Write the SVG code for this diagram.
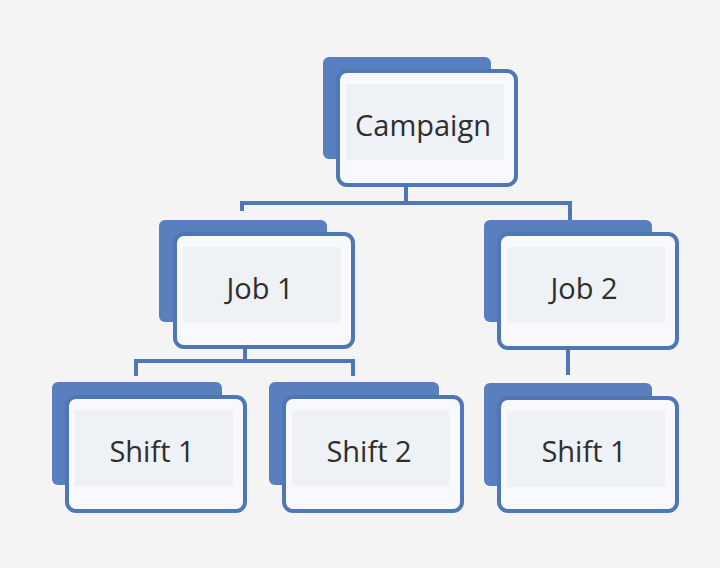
<svg xmlns="http://www.w3.org/2000/svg" width="720" height="568" viewBox="0 0 720 568">
<defs>
<style>
.back{fill:#5a7fbe;}
.front{fill:#f8f9fc;stroke:#5077b5;stroke-width:4;}
.inner{fill:#eef1f6;}
.lbl{font-family:"Open Sans","Liberation Sans",sans-serif;font-size:29px;fill:#2e2e2e;text-anchor:middle;}
.conn{fill:none;stroke:#5077b5;stroke-width:4;}
</style>
</defs>
<rect width="720" height="568" fill="#f4f4f4"/>
<g id="connectors">
<path class="conn" d="M406 186 V203 M242 211 V203 H570 V220"/>
<path class="conn" d="M245 349 V361 M136 376 V361 H353 V376"/>
<path class="conn" d="M568 350 V375"/>
</g>
<g id="campaign">
<rect class="back" x="323" y="57" width="168" height="102" rx="6"/>
<rect class="front" x="338" y="71" width="178" height="114" rx="9"/>
<rect class="inner" x="346" y="84" width="158" height="76"/>
<text class="lbl" x="423" y="136">Campaign</text>
</g>
<g id="job1">
<rect class="back" x="159" y="220" width="168" height="102" rx="6"/>
<rect class="front" x="175" y="234" width="178" height="113" rx="9"/>
<rect class="inner" x="183" y="247" width="158" height="76"/>
<text class="lbl" x="260" y="299">Job 1</text>
</g>
<g id="job2">
<rect class="back" x="484" y="220" width="168" height="102" rx="6"/>
<rect class="front" x="499" y="234" width="178" height="114" rx="9"/>
<rect class="inner" x="507" y="247" width="158" height="76"/>
<text class="lbl" x="584" y="299">Job 2</text>
</g>
<g id="shift1a">
<rect class="back" x="52" y="382" width="170" height="103" rx="6"/>
<rect class="front" x="67" y="397" width="178" height="114" rx="9"/>
<rect class="inner" x="75" y="410" width="158" height="76"/>
<text class="lbl" x="152" y="462">Shift 1</text>
</g>
<g id="shift2">
<rect class="back" x="269" y="382" width="170" height="103" rx="6"/>
<rect class="front" x="284" y="397" width="178" height="114" rx="9"/>
<rect class="inner" x="292" y="410" width="158" height="76"/>
<text class="lbl" x="369" y="462">Shift 2</text>
</g>
<g id="shift1b">
<rect class="back" x="484" y="383" width="168" height="103" rx="6"/>
<rect class="front" x="499" y="398" width="178" height="113" rx="9"/>
<rect class="inner" x="507" y="411" width="158" height="76"/>
<text class="lbl" x="584" y="462">Shift 1</text>
</g>
</svg>
